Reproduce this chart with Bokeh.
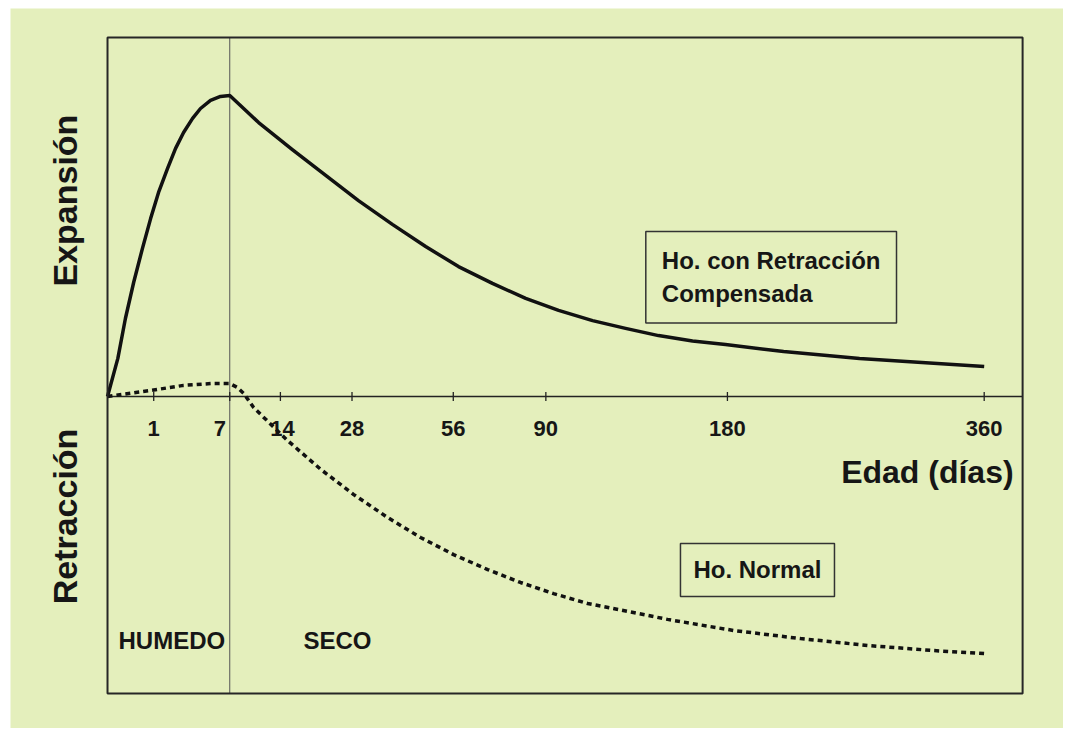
import numpy as np
from bokeh.plotting import figure
from bokeh.models import Label, Range1d, ColumnDataSource, BoxAnnotation
from bokeh.core.properties import value
from bokeh.embed import file_html
from bokeh.resources import INLINE

# Ho. con Retracción Compensada (expansion), age in days
exp_days = [0, 0.05, 0.15, 0.32, 0.57, 0.87, 1.22, 1.69, 2.17, 2.71, 3.39, 4.05,
            4.97, 5.98, 7, 10.7, 16.0, 22.3, 29.5, 38.1, 47.4, 57.7, 69.4, 81.9,
            95.3, 110.2, 125.7, 142.2, 160.3, 178.9, 214.1, 264.9, 360]
exp_vals = [0.0, 0.127, 0.26, 0.38, 0.493, 0.593, 0.68, 0.76, 0.827, 0.88, 0.927,
            0.96, 0.987, 1.0, 1.003, 0.913, 0.823, 0.737, 0.653, 0.573, 0.50,
            0.433, 0.377, 0.327, 0.287, 0.253, 0.227, 0.203, 0.185, 0.173, 0.15,
            0.127, 0.10]

# Ho. Normal (retraction)
ret_days = [0, 0.87, 2.7, 5.0, 7, 7.9, 8.7, 10.0, 15.2, 21.3, 28.4, 36.7, 45.9,
            56.1, 67.7, 79.9, 93.2, 108, 131.6, 146.9, 183.6, 225, 270.6, 319.7, 360]
ret_vals = [0.0, 0.02, 0.037, 0.043, 0.043, 0.03, 0.01, -0.037, -0.147, -0.243,
            -0.327, -0.403, -0.47, -0.527, -0.577, -0.62, -0.657, -0.69, -0.723,
            -0.743, -0.78, -0.807, -0.83, -0.847, -0.857]

tick_days = [1, 7, 14, 28, 56, 90, 180, 360]
tick_labels = ["1", "7", "14", "28", "56", "90", "180", "360"]
wet_end_day = 7

BG = "#e4efbc"
INK = "#161616"
FONT_NAME = "Liberation Sans"

# chart box (in sqrt(day) units / relative magnitude units)
X0, X1 = 0.0, 19.805
Y0, Y1 = -0.99, 1.197

p = figure(width=1063, height=728, output_backend="svg", toolbar_location=None,
           x_range=Range1d(-2.0996, 20.69), y_range=Range1d(-1.1067, 1.2933),
           x_axis_location=None, y_axis_location=None,
           min_border_left=10, min_border_right=0, min_border_top=8,
           min_border_bottom=0)
p.background_fill_color = BG
p.border_fill_color = "white"
p.outline_line_color = None
p.xgrid.visible = False
p.ygrid.visible = False

# chart frame
p.add_layout(BoxAnnotation(left=X0, right=X1, bottom=Y0, top=Y1, fill_color=None,
                           line_color="#262626", line_alpha=1.0, line_width=2))

# zero line and wet/dry divider
p.segment(x0=[X0], y0=[0], x1=[X1], y1=[0], line_color="#222222", line_width=1.6)
p.segment(x0=[np.sqrt(wet_end_day)], y0=[Y0], x1=[np.sqrt(wet_end_day)], y1=[Y1],
          line_color="#555555", line_width=1)

# tick marks & labels on the zero line (square-root age scale)
tx = np.sqrt(np.array(tick_days, dtype=float))
p.segment(x0=tx, y0=-0.015, x1=tx, y1=0.015, line_color="#222222", line_width=1.3)
dx = [0, -10, 2, 0, 0, 0, 0, 0]
src = ColumnDataSource(dict(x=tx, y=np.full(len(tx), -0.107), t=tick_labels, dx=dx))
p.text(x="x", y="y", text="t", x_offset="dx", source=src, text_align="center",
       text_baseline="middle", text_font=value(FONT_NAME), text_font_style="bold",
       text_font_size="22px", text_color=INK)

# curves
p.line(np.sqrt(np.array(exp_days, dtype=float)), exp_vals, line_color="#111111",
       line_width=3.5, line_join="round")
p.line(np.sqrt(np.array(ret_days, dtype=float)), ret_vals, line_color="#111111",
       line_width=3.5, line_dash="5 4")

def lab(text, x, y, size, **kw):
    p.add_layout(Label(text=text, x=x, y=y, text_font=FONT_NAME, text_font_style="bold",
                       text_font_size=size, text_color=INK, **kw))

lab("Edad (días)", 19.61, -0.253, "32px", text_align="right", text_baseline="middle")
lab("Expansión", -0.93, 0.653, "34px", angle=np.pi / 2, text_align="center",
    text_baseline="middle")
lab("Retracción", -0.93, -0.40, "34px", angle=np.pi / 2, text_align="center",
    text_baseline="middle")
lab("HUMEDO", 0.238, -0.813, "24px", text_align="left", text_baseline="middle")
lab("SECO", 4.24, -0.813, "24px", text_align="left", text_baseline="middle")

lab("Ho. con Retracción\nCompensada", 11.65, 0.55, "24px", anchor="top_left",
    text_align="left", border_line_color="#333333", border_line_width=1.5,
    padding=16)
lab("Ho. Normal", 12.40, -0.49, "24px", anchor="top_left", text_align="left",
    border_line_color="#333333", border_line_width=1.5, padding=13)

open("out.html", "w").write(file_html(p, INLINE))
